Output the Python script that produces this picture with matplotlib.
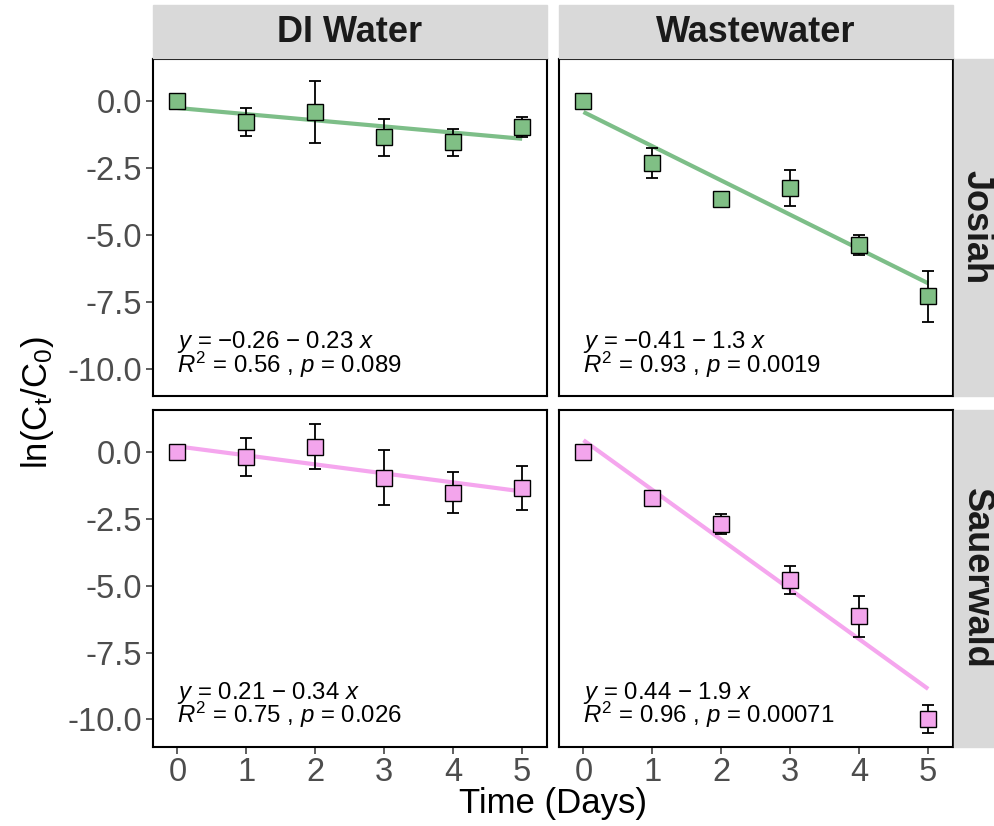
import numpy as np
import matplotlib.pyplot as plt
from matplotlib.patches import Rectangle

plt.rcParams['font.family'] = ['Liberation Sans', 'DejaVu Sans']
plt.rcParams['mathtext.fontset'] = 'custom'
plt.rcParams['mathtext.rm'] = 'Liberation Sans'
plt.rcParams['mathtext.it'] = 'Liberation Sans:italic'
plt.rcParams['mathtext.bf'] = 'Liberation Sans:bold'

# sampling days
days = [0, 1, 2, 3, 4, 5]

# mean ln(Ct/C0) and error bar half-widths for each site / matrix
josiah_di_mean = [0.0, -0.77, -0.40, -1.36, -1.54, -0.98]
josiah_di_err = [0.0, 0.52, 1.16, 0.69, 0.50, 0.37]
josiah_ww_mean = [0.0, -2.32, -3.66, -3.26, -5.37, -7.30]
josiah_ww_err = [0.0, 0.57, 0.05, 0.68, 0.38, 0.95]
sauer_di_mean = [0.0, -0.18, 0.20, -0.96, -1.52, -1.34]
sauer_di_err = [0.0, 0.70, 0.84, 1.02, 0.77, 0.83]
sauer_ww_mean = [0.0, -1.71, -2.70, -4.79, -6.14, -9.98]
sauer_ww_err = [0.0, 0.15, 0.37, 0.51, 0.77, 0.51]

# linear fits: intercept, slope, R^2, p
josiah_di_fit = [-0.26, -0.23, 0.56, 0.089]
josiah_ww_fit = [-0.41, -1.28, 0.93, 0.0019]
sauer_di_fit = [0.21, -0.337, 0.75, 0.026]
sauer_ww_fit = [0.44, -1.86, 0.96, 0.00071]

matrices = ['DI Water', 'Wastewater']
sites = ['Josiah', 'Sauerwald']
site_fill = {'Josiah': '#80BF85', 'Sauerwald': '#F3A5EC'}
site_line = {'Josiah': '#7DBE88', 'Sauerwald': '#F5A6EE'}

panels = {
    ('Josiah', 'DI Water'): (josiah_di_mean, josiah_di_err, josiah_di_fit),
    ('Josiah', 'Wastewater'): (josiah_ww_mean, josiah_ww_err, josiah_ww_fit),
    ('Sauerwald', 'DI Water'): (sauer_di_mean, sauer_di_err, sauer_di_fit),
    ('Sauerwald', 'Wastewater'): (sauer_ww_mean, sauer_ww_err, sauer_ww_fit),
}

W, H = 994, 826
fig = plt.figure(figsize=(W / 100, H / 100), dpi=100)


def box(x0, x1, y0, y1):
    return [x0 / W, 1 - y1 / H, (x1 - x0) / W, (y1 - y0) / H]


def num(v):
    return f'{v:.2g}'.replace('-', '\u2212')


cols = [(153, 547), (559, 953)]
rows = [(59, 396), (410, 746.7)]

for r, site in enumerate(sites):
    for c, matrix in enumerate(matrices):
        mean, err, fit = panels[(site, matrix)]
        ax = fig.add_axes(box(*cols[c], *rows[r]))
        b, m, r2, p = fit
        xs = np.array([days[0], days[-1]])
        ax.plot(xs, b + m * xs, color=site_line[site], lw=3.0, zorder=1,
                solid_capstyle='butt')
        ax.errorbar(days, mean, yerr=err, fmt='none', ecolor='black',
                    elinewidth=1.3, capsize=4.3, capthick=1.3, zorder=2)
        ax.plot(days, mean, ls='none', marker='s', ms=11.5,
                mfc=site_fill[site], mec='black', mew=1.0, zorder=3)

        sign = '\u2212' if m < 0 else '+'
        eq = f'$y$ = {num(b)} {sign} {num(abs(m))} $x$'
        stats = f'$R^2$ = {num(r2)} , $p$ = {num(p)}'
        ax.text(0.0, -9.23, eq, fontsize=17.3, va='baseline', ha='left')
        ax.text(0.0, -10.14, stats, fontsize=17.3, va='baseline', ha='left')

        ax.set_xlim(-0.355, 5.36)
        ax.set_ylim(-11.02, 1.57)
        ax.set_xticks(days)
        ax.set_yticks([0.0, -2.5, -5.0, -7.5, -10.0])
        ax.set_yticklabels(['0.0', '-2.5', '-5.0', '-7.5', '-10.0'])
        for s in ax.spines.values():
            s.set_linewidth(1.5)
            s.set_color('black')
        ax.tick_params(direction='out', length=4.7, width=1.1, color='#333333',
                       labelsize=23.5, labelcolor='#4D4D4D', pad=3)
        if c != 0:
            ax.tick_params(axis='y', left=False, labelleft=False)
        if r != len(sites) - 1:
            ax.tick_params(axis='x', bottom=False, labelbottom=False)

# facet strips
for c, matrix in enumerate(matrices):
    x0, x1 = cols[c]
    fig.patches.append(Rectangle((x0 / W, 1 - 57.5 / H), (x1 - x0) / W, 52.5 / H,
                                 transform=fig.transFigure, color='#D9D9D9',
                                 zorder=0))
    fig.text((x0 + x1) / 2 / W, 1 - 32 / H, matrix, fontsize=26,
             fontweight='bold', color='#1A1A1A', ha='center', va='center')
for r, site in enumerate(sites):
    y0, y1 = rows[r]
    fig.patches.append(Rectangle((953.5 / W, 1 - y1 / H), 45 / W, (y1 - y0) / H,
                                 transform=fig.transFigure, color='#D9D9D9',
                                 zorder=0))
    fig.text(976 / W, 1 - (y0 + y1) / 2 / H, site, fontsize=26,
             fontweight='bold', color='#1A1A1A', ha='center', va='center',
             rotation=-90)

fig.text(553 / W, 1 - 803 / H, 'Time (Days)', fontsize=25,
         ha='center', va='center')
fig.text(38 / W, 1 - 403 / H, r'ln(C$_\mathrm{t}$/C$_\mathrm{0}$)', fontsize=25,
         ha='center', va='center', rotation=90)

fig.savefig('out.png', dpi=100)
